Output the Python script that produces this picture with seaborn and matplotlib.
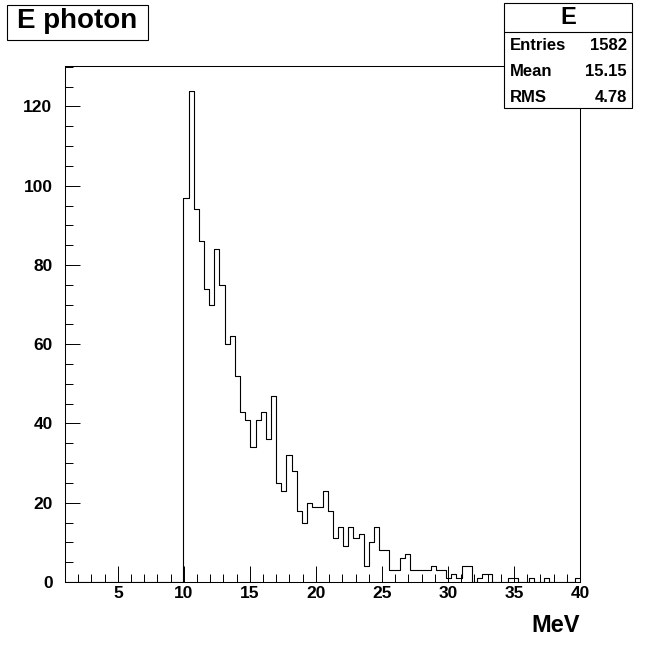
import numpy as np
import pandas as pd
import matplotlib
matplotlib.use('Agg')
import matplotlib.pyplot as plt
from matplotlib.patches import Rectangle
from matplotlib.lines import Line2D
from matplotlib.ticker import MultipleLocator
import seaborn as sns

# histogram "E": 100 bins between 1 and 40 MeV, first 23 bins empty
x_lo = 1.0
x_hi = 40.0
n_bins = 100
empty_bins = 23
counts = [97, 124, 94, 86, 74, 70, 84, 75, 60, 62,
          52, 43, 41, 34, 41, 43, 36, 47, 25, 23,
          32, 28, 18, 15, 20, 19, 19, 23, 18, 11,
          14, 9, 14, 11, 12, 4, 10, 14, 8, 8,
          3, 3, 6, 7, 3, 3, 3, 3, 4, 3,
          3, 1, 2, 1, 4, 4, 0, 1, 2, 2,
          0, 0, 0, 1, 1, 0, 0, 1, 0, 0,
          1, 0, 0, 0, 0, 0, 1]
title = 'E photon'
stat_name = 'E'
stat_entries = '1582'
stat_mean = '15.15'
stat_rms = '4.78'
x_label = 'MeV'

edges = np.linspace(x_lo, x_hi, n_bins + 1)
centers = (edges[:-1] + edges[1:]) / 2
weights = np.concatenate([np.zeros(empty_bins), counts])
df = pd.DataFrame({'E': centers, 'n': weights})

sns.set_theme(style='white')
plt.rcParams['font.family'] = ['Liberation Sans', 'DejaVu Sans']
plt.rcParams['font.weight'] = 'bold'
plt.rcParams['text.color'] = 'black'
plt.rcParams['xtick.color'] = 'black'
plt.rcParams['ytick.color'] = 'black'
plt.rcParams['xtick.labelcolor'] = 'black'
plt.rcParams['ytick.labelcolor'] = 'black'

W = 647
fig = plt.figure(figsize=(6.47, 6.47), dpi=100)
fig.patch.set_facecolor('white')
ax = fig.add_axes([65 / W, 65 / W, 515 / W, 516 / W])

sns.histplot(data=df, x='E', weights='n', bins=list(edges), element='step',
             fill=False, color='black', linewidth=0.8, ax=ax)

ax.set_xlim(x_lo, x_hi)
ax.set_ylim(0, 130.2)
ax.xaxis.set_major_locator(MultipleLocator(5))
ax.xaxis.set_minor_locator(MultipleLocator(1))
ax.yaxis.set_major_locator(MultipleLocator(20))
ax.yaxis.set_minor_locator(MultipleLocator(5))
ax.tick_params(axis='x', which='major', direction='in', length=11.5, width=0.7,
               color='black', labelcolor='black', labelsize=12.5, pad=3,
               top=False, bottom=True)
ax.tick_params(axis='x', which='minor', direction='in', length=5.8, width=0.7,
               color='black', top=False, bottom=True)
ax.tick_params(axis='y', which='major', direction='in', length=11, width=0.7,
               color='black', labelcolor='black', labelsize=12.5, pad=9,
               left=True, right=False)
ax.tick_params(axis='y', which='minor', direction='in', length=6, width=0.7,
               color='black', left=True, right=False)
for lab in ax.get_xticklabels() + ax.get_yticklabels():
    lab.set_fontweight('bold')
for sp in ax.spines.values():
    sp.set_color('black')
    sp.set_linewidth(0.75)
ax.set_xlabel('')
ax.set_ylabel('')
ax.grid(False)

fig.text(580 / W, 1 - 626 / W, x_label, ha='right', va='center',
         fontsize=17, fontweight='bold', color='black')


def px(x, y):
    return x / W, 1 - y / W


# title box
x0, y0 = px(7, 40)
fig.add_artist(Rectangle((x0, y0), 141 / W, 35 / W, transform=fig.transFigure,
                         facecolor='white', edgecolor='black', linewidth=0.8))
fig.text(*px(77.5, 21.5), title, ha='center', va='center',
         fontsize=20, fontweight='bold', color='black')

# stats box
x0, y0 = px(504, 108)
fig.add_artist(Rectangle((x0, y0), 128 / W, 105 / W, transform=fig.transFigure,
                         facecolor='white', edgecolor='black', linewidth=0.8,
                         zorder=5))
hx0, hy = px(504, 31.5)
hx1, _ = px(632, 31.5)
fig.add_artist(Line2D([hx0, hx1], [hy, hy], transform=fig.transFigure,
                      color='black', linewidth=0.8, zorder=6))
fig.text(*px(568, 18), stat_name, ha='center', va='center',
         fontsize=17, fontweight='bold', color='black', zorder=7)
rows = [('Entries', stat_entries, 45), ('Mean', stat_mean, 71),
        ('RMS', stat_rms, 97)]
for name, val, yy in rows:
    fig.text(*px(510, yy), name, ha='left', va='center',
             fontsize=12, fontweight='bold', color='black', zorder=7)
    fig.text(*px(627, yy), val, ha='right', va='center',
             fontsize=12, fontweight='bold', color='black', zorder=7)

fig.savefig('out.png', dpi=100, facecolor='white')
